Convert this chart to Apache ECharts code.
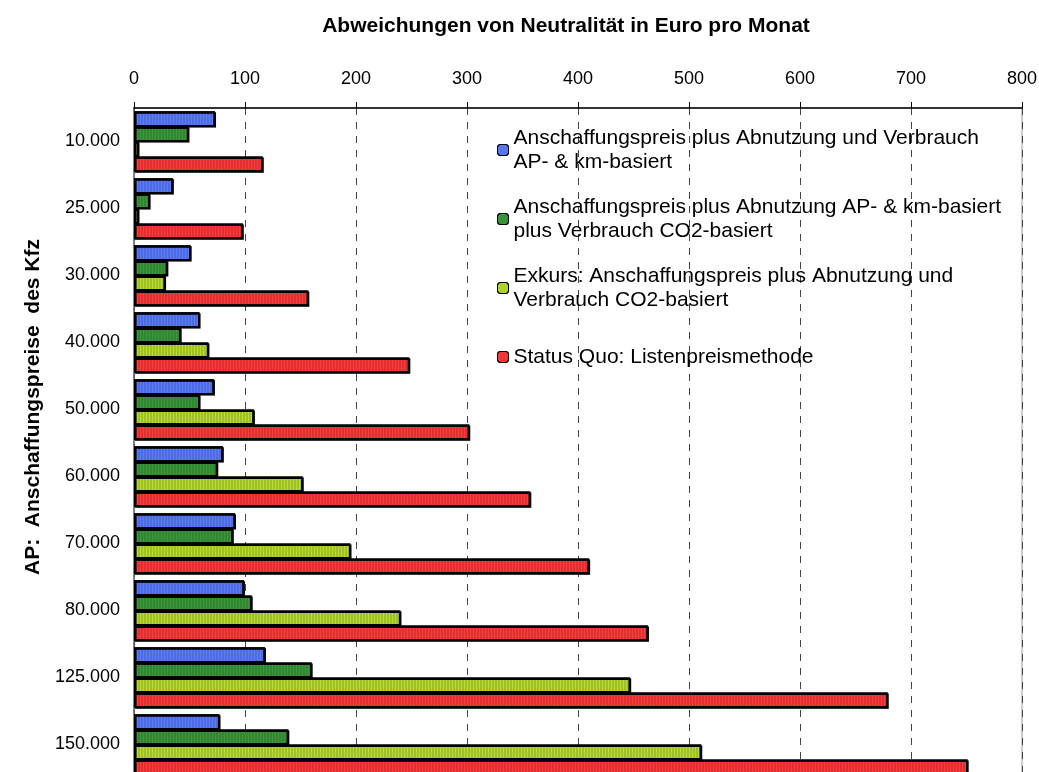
<!DOCTYPE html>
<html>
<head>
<meta charset="utf-8">
<script src="https://cdn.jsdelivr.net/npm/echarts@6/dist/echarts.min.js"></script>
<style>
  html, body { margin: 0; padding: 0; background: #fff; overflow: hidden; }
  /* Diagramm ist unten abgeschnitten wie im Original */
  #chart { width: 1039px; height: 820px; }
</style>
</head>
<body>
<div id="chart"></div>
<script>
// Anschaffungspreise (AP) des Kfz
const categories = ['10.000', '25.000', '30.000', '40.000', '50.000', '60.000', '70.000', '80.000', '125.000', '150.000'];

// Abweichungen in Euro pro Monat
const apKmBasiert = [73, 35, 51, 59, 72, 80, 91, 99, 118, 77];
const apKmCo2 = [49, 14, 30, 42, 59, 75, 89, 106, 160, 139];
const exkursCo2 = [4, 4, 28, 67, 108, 152, 195, 240, 447, 511];
const statusQuo = [116, 98, 157, 248, 302, 357, 410, 463, 679, 751];

const xTicks = [0, 100, 200, 300, 400, 500, 600, 700, 800];

const names = [
  'Anschaffungspreis plus Abnutzung und Verbrauch\nAP- & km-basiert',
  'Anschaffungspreis plus Abnutzung AP- & km-basiert\nplus Verbrauch CO2-basiert',
  'Exkurs: Anschaffungspreis plus Abnutzung und\nVerbrauch CO2-basiert',
  'Status Quo: Listenpreismethode'
];
const colors = ['#5b7cff', '#3a9a3a', '#b8dc30', '#ff3a3a'];

const font = 'Liberation Sans, Arial, sans-serif';

// feine senkrechte Streifen wie im Original
const stripes = {
  symbol: 'rect',
  symbolSize: 1,
  dashArrayX: [1, 2],
  dashArrayY: [4, 0],
  color: 'rgba(0,0,0,0.13)'
};

const chart = echarts.init(document.getElementById('chart'), null, { renderer: 'canvas' });

const seriesData = [apKmBasiert, apKmCo2, exkursCo2, statusQuo];

const option = {
  animation: false,
  backgroundColor: '#fff',
  textStyle: { fontFamily: font },
  title: {
    text: 'Abweichungen von Neutralität in Euro pro Monat',
    left: 561,
    textAlign: 'center',
    top: 11,
    textStyle: { fontFamily: font, fontSize: 21, fontWeight: 'bold', color: '#000' }
  },
  legend: {
    orient: 'vertical',
    left: 497,
    top: 114,
    padding: 0,
    itemGap: -3,
    itemWidth: 11,
    itemHeight: 11,
    textStyle: { fontFamily: font, fontSize: 21, color: '#000', lineHeight: 24, padding: [24, 0, 0, 0] },
    data: names.map((n, i) => ({
      name: n,
      itemStyle: { borderColor: '#000', borderWidth: 1 },
      textStyle: i === 3 ? { padding: [24, 0, 24, 0] } : {}
    }))
  },
  grid: {
    left: 134,
    top: 108,
    width: 888,
    height: 670,
    outerBoundsMode: 'none',
    show: true,
    borderColor: '#9a9a9a',
    borderWidth: 1,
    backgroundColor: 'transparent'
  },
  xAxis: {
    type: 'value',
    position: 'top',
    min: 0,
    max: 800,
    interval: 100,
    axisLine: { show: true, lineStyle: { color: '#000', width: 1.5 } },
    axisTick: { show: true, length: 6, lineStyle: { color: '#000' } },
    axisLabel: {
      fontFamily: font,
      fontSize: 18,
      color: '#000',
      margin: 20,
      formatter: v => (xTicks.includes(v) ? String(v) : '')
    },
    splitLine: { show: true, lineStyle: { color: '#444', type: [7, 7], width: 1 } }
  },
  yAxis: {
    type: 'category',
    inverse: true,
    data: categories,
    name: 'AP:  Anschaffungspreise  des Kfz',
    nameLocation: 'middle',
    nameGap: 86,
    nameTextStyle: {
      fontFamily: font,
      fontSize: 21,
      fontWeight: 'bold',
      color: '#000',
      padding: [0, 0, 0, 72]
    },
    axisLine: { show: true, lineStyle: { color: '#666', width: 1.5 } },
    axisTick: { show: false },
    axisLabel: { fontFamily: font, fontSize: 18, color: '#000', margin: 14 },
    splitLine: { show: false }
  },
  series: seriesData.map((d, i) => ({
    name: names[i],
    type: 'bar',
    data: d,
    barGap: '0%',
    barCategoryGap: '10%',
    itemStyle: {
      color: colors[i],
      borderColor: '#000',
      borderWidth: 1.5,
      decal: stripes,
      shadowColor: 'rgba(0,0,0,0.25)',
      shadowOffsetX: 1,
      shadowOffsetY: 1
    }
  }))
};

chart.setOption(option);
</script>
</body>
</html>
